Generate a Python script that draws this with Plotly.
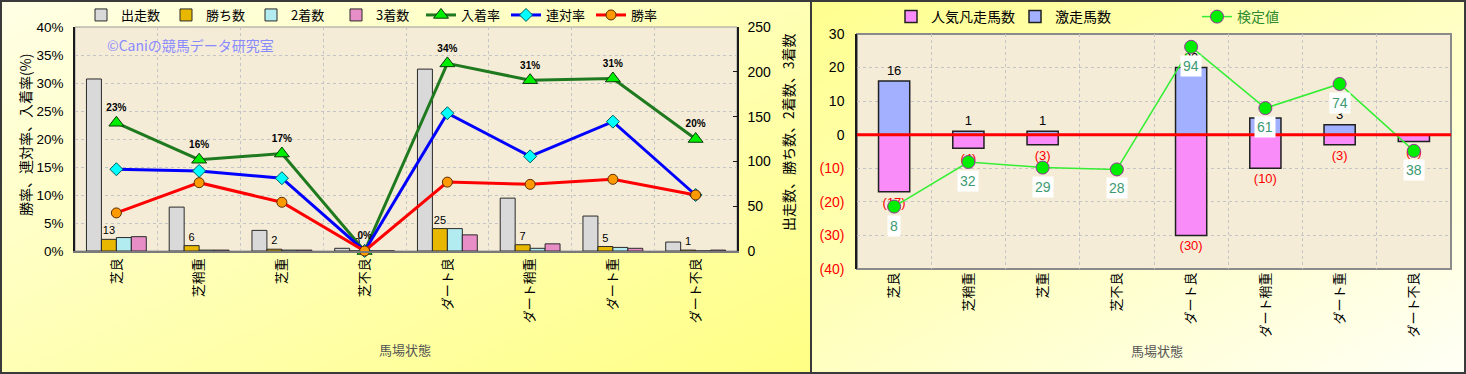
import base64
import plotly.graph_objects as go

# ---------------- data ----------------
categories = ["芝良", "芝稍重", "芝重", "芝不良", "ダート良", "ダート稍重", "ダート重", "ダート不良"]

starts = [192, 49, 23, 3, 203, 59, 39, 10]          # 出走数
wins = [13, 6, 2, 0, 25, 7, 5, 1]                   # 勝ち数
seconds = [15, 1, 1, 0, 25, 3, 4, 0]                # 2着数
thirds = [16, 1, 1, 0, 18, 8, 3, 1]                 # 3着数

place_rate = [22.9, 16.3, 17.4, 0.0, 33.5, 30.5, 30.8, 20.0]     # 入着率 (%)
place_labels = ["23%", "16%", "17%", "0%", "34%", "31%", "31%", "20%"]
quinella_rate = [14.6, 14.3, 13.0, 0.0, 24.6, 16.9, 23.1, 10.0]  # 連対率 (%)
win_rate = [6.8, 12.2, 8.7, 0.0, 12.3, 11.9, 12.8, 10.0]         # 勝率 (%)

poor_counts = [-17, -4, -3, 0, -30, -10, -3, -2]    # 人気凡走馬数
surge_counts = [16, 1, 1, 0, 20, 5, 3, 0]           # 激走馬数
test_values = [8, 32, 29, 28, 94, 61, 74, 38]       # 検定値

pct_ticks = [0, 5, 10, 15, 20, 25, 30, 35, 40]
pct_tick_labels = ["0%", "5%", "10%", "15%", "20%", "25%", "30%", "35%", "40%"]
count_ticks = [0, 50, 100, 150, 200, 250]
diff_ticks = [-40, -30, -20, -10, 0, 10, 20, 30]
diff_tick_labels = ["(40)", "(30)", "(20)", "(10)", "0", "10", "20", "30"]

# ---------------- helpers ----------------
W, H = 1466, 374
FONT = "Liberation Sans, Noto Sans CJK JP, sans-serif"
JFONT = "Noto Sans CJK JP, Liberation Sans, sans-serif"


def px(xp):
    return xp / W


def py(yp):
    return 1 - yp / H


def grad_svg(w, h, c0, c1):
    svg = (
        f'<svg xmlns="http://www.w3.org/2000/svg" width="{w}" height="{h}" '
        f'viewBox="0 0 {w} {h}" preserveAspectRatio="none">'
        '<defs><linearGradient id="g" x1="0" y1="0" x2="1" y2="1">'
        f'<stop offset="0" stop-color="{c0}"/><stop offset="1" stop-color="{c1}"/>'
        '</linearGradient></defs>'
        f'<rect width="{w}" height="{h}" fill="url(#g)"/></svg>'
    )
    return "data:image/svg+xml;base64," + base64.b64encode(svg.encode()).decode()


fig = go.Figure()

# ---------------- left chart: bars ----------------
bar_specs = [
    ("出走数", starts, "#d9d9d9"),
    ("勝ち数", wins, "#e8b800"),
    ("2着数", seconds, "#b2ecf0"),
    ("3着数", thirds, "#e88ec6"),
]
for name, vals, col in bar_specs:
    fig.add_trace(go.Bar(
        x=categories, y=vals, name=name, xaxis="x", yaxis="y",
        marker=dict(color=col, line=dict(color="#2a2a2a", width=1)),
        text=[str(v) for v in vals] if name == "勝ち数" else None,
        textposition="outside" if name == "勝ち数" else "none",
        textfont=dict(size=11, color="#000000", family=FONT),
        cliponaxis=False, legend="legend",
    ))

# ---------------- left chart: lines ----------------
fig.add_trace(go.Scatter(
    x=categories, y=place_rate, name="入着率", xaxis="x", yaxis="y2",
    mode="lines+markers+text", text=place_labels, textposition="top center",
    textfont=dict(size=10, color="#000000", family=FONT, weight="bold"),
    line=dict(color="#1f7a1f", width=3),
    marker=dict(symbol="triangle-up", size=13, color="#00ee00",
                line=dict(color="#0a3a0a", width=1)),
    cliponaxis=False, legend="legend",
))
fig.add_trace(go.Scatter(
    x=categories, y=quinella_rate, name="連対率", xaxis="x", yaxis="y2",
    mode="lines+markers",
    line=dict(color="#0000ff", width=3),
    marker=dict(symbol="diamond", size=10, color="#00ffff",
                line=dict(color="#005a5a", width=1)),
    cliponaxis=False, legend="legend",
))
fig.add_trace(go.Scatter(
    x=categories, y=win_rate, name="勝率", xaxis="x", yaxis="y2",
    mode="lines+markers",
    line=dict(color="#ff0000", width=3),
    marker=dict(symbol="circle", size=10, color="#ff9900",
                line=dict(color="#5a2a00", width=1)),
    cliponaxis=False, legend="legend",
))

# ---------------- right chart: bars ----------------
fig.add_trace(go.Bar(
    x=categories, y=poor_counts, name="人気凡走馬数", xaxis="x3", yaxis="y3",
    width=0.42, offset=-0.21,
    marker=dict(color="#f98cf9", line=dict(color="#202020", width=1.5)),
    text=[f"({-v})" if v != 0 else "" for v in poor_counts],
    textposition="outside", textfont=dict(size=13, color="#ff0000", family=FONT),
    cliponaxis=False, legend="legend2",
))
fig.add_trace(go.Bar(
    x=categories, y=surge_counts, name="激走馬数", xaxis="x3", yaxis="y3",
    width=0.42, offset=-0.21,
    marker=dict(color="#a2b0ff", line=dict(color="#202020", width=1.5)),
    text=[str(v) if v != 0 else "" for v in surge_counts],
    textposition="outside", textfont=dict(size=13, color="#000000", family=FONT),
    cliponaxis=False, legend="legend3",
))
fig.add_trace(go.Scatter(
    x=categories, y=test_values, name="検定値", xaxis="x3", yaxis="y4",
    mode="lines+markers",
    line=dict(color="#33ee33", width=1.5),
    marker=dict(symbol="circle", size=13, color="#00ee00",
                line=dict(color="#993399", width=1)),
    cliponaxis=False, legend="legend4",
))

# ---------------- shapes / backgrounds ----------------
shapes = [
    dict(type="rect", xref="x domain", yref="y domain", x0=0, x1=1, y0=0, y1=1,
         fillcolor="#f5ecd7", line=dict(color="#9a9a9a", width=1), layer="below"),
    dict(type="rect", xref="x3 domain", yref="y3 domain", x0=0, x1=1, y0=0, y1=1,
         fillcolor="#f5ecd7", line=dict(color="#8a8a8a", width=2), layer="below"),
    dict(type="line", xref="x3 domain", yref="y3", x0=0, x1=1, y0=0, y1=0,
         line=dict(color="#ff0000", width=3), layer="above"),
    dict(type="rect", xref="paper", yref="paper", x0=px(1), x1=px(811), y0=py(373), y1=py(1),
         line=dict(color="#3a3a3a", width=2), layer="below"),
    dict(type="rect", xref="paper", yref="paper", x0=px(811), x1=px(1465), y0=py(373), y1=py(1),
         line=dict(color="#3a3a3a", width=2), layer="below"),
]

images = [
    dict(source=grad_svg(811, 374, "#ffffe6", "#ffff84"), xref="paper", yref="paper",
         x=0, y=1, sizex=px(811), sizey=1, xanchor="left", yanchor="top",
         sizing="stretch", layer="below"),
    dict(source=grad_svg(655, 374, "#ffff8e", "#fffff6"), xref="paper", yref="paper",
         x=px(811), y=1, sizex=px(655), sizey=1, xanchor="left", yanchor="top",
         sizing="stretch", layer="below"),
]

# ---------------- annotations ----------------
def note(text, x, y, size, color, angle=0):
    return dict(text=text, x=px(x), y=py(y), xref="paper", yref="paper",
                xanchor="center", yanchor="middle", textangle=angle, showarrow=False,
                font=dict(size=size, color=color, family=JFONT))


annotations = [
    note("勝率、連対率、入着率(%)", 25, 135, 14, "#000000", -90),
    note("出走数、勝ち数、2着数、3着数", 788, 132, 14, "#000000", -90),
    note("©Caniの競馬データ研究室", 190, 45, 14, "#8a8aff"),
    note("馬場状態", 405, 349, 13, "#555555"),
    note("馬場状態", 1157, 350, 13, "#555555"),
]
for c, v in zip(categories, test_values):
    annotations.append(dict(
        text=str(v), x=c, y=v, xref="x3", yref="y4", yshift=-19, showarrow=False,
        xanchor="center", yanchor="middle",
        bgcolor="#ffffff", borderpad=2,
        font=dict(size=14, color="#3d9a72", family=FONT),
    ))

# ---------------- layout ----------------
grid = dict(showgrid=True, gridcolor="#c4c4c4", griddash="dot", gridwidth=1)

fig.update_layout(
    template="none",
    width=W, height=H, autosize=False,
    margin=dict(l=0, r=0, t=0, b=0),
    paper_bgcolor="#ffffee",
    plot_bgcolor="rgba(0,0,0,0)",
    font=dict(family=FONT, size=13, color="#000000"),
    barmode="group", bargap=0.277, bargroupgap=0,
    xaxis=dict(domain=[px(75), px(737)], anchor="y", type="category",
               range=[-0.5, 7.5], tickangle=-90, ticks="", tickson="boundaries",
               tickfont=dict(size=13, family=JFONT), showline=True,
               linecolor="#7a7a7a", linewidth=2, zeroline=False, automargin=False,
               **grid),
    yaxis=dict(domain=[py(251), py(27)], anchor="x", side="right", range=[0, 250],
               tickvals=count_ticks, showgrid=False, zeroline=False,
               showline=True, linecolor="#1a1a1a", linewidth=1.5,
               ticks="inside", ticklen=4, tickcolor="#1a1a1a",
               tickfont=dict(size=14), automargin=False, ticklabelstandoff=6),
    yaxis2=dict(overlaying="y", anchor="x", side="left", range=[0, 40],
                tickvals=pct_ticks, ticktext=pct_tick_labels, zeroline=False,
                showline=True, linecolor="#1a1a1a", linewidth=1.5,
                tickfont=dict(size=13.5), automargin=False, ticklabelstandoff=7,
                **grid),
    xaxis3=dict(domain=[px(857), px(1451)], anchor="y3", type="category",
                range=[-0.5, 7.5], tickangle=-90, ticks="", tickson="boundaries",
                tickfont=dict(size=13, family=JFONT), showline=False,
                zeroline=False, automargin=False, **grid),
    yaxis3=dict(domain=[py(269), py(34)], anchor="x3", range=[-40, 30],
                tickvals=diff_ticks,
                ticktext=[f'<span style="color:#ff0000">{t}</span>' if t.startswith("(") else t
                          for t in diff_tick_labels],
                zeroline=False, showline=True, linecolor="#1a1a1a", linewidth=1.5,
                tickfont=dict(size=14), automargin=False, ticklabelstandoff=8,
                **grid),
    yaxis4=dict(overlaying="y3", anchor="x3", side="right", range=[-25.6, 100.9],
                showgrid=False, zeroline=False, showticklabels=False, showline=False,
                automargin=False),
    legend=dict(orientation="h", x=px(81), y=py(15), xanchor="left", yanchor="middle",
                entrywidth=40, entrywidthmode="pixels", bgcolor="rgba(0,0,0,0)",
                font=dict(size=13, family=JFONT), traceorder="normal"),
    legend2=dict(orientation="h", x=px(891), y=py(17), xanchor="left", yanchor="middle",
                 bgcolor="rgba(0,0,0,0)", font=dict(size=14, family=JFONT)),
    legend3=dict(orientation="h", x=px(1015), y=py(17), xanchor="left", yanchor="middle",
                 bgcolor="rgba(0,0,0,0)", font=dict(size=14, family=JFONT)),
    legend4=dict(orientation="h", x=px(1197), y=py(17), xanchor="left", yanchor="middle",
                 bgcolor="rgba(0,0,0,0)", font=dict(size=14, color="#2e8b2e", family=JFONT)),
    shapes=shapes,
    images=images,
    annotations=annotations,
)

fig.write_html("out.html")
